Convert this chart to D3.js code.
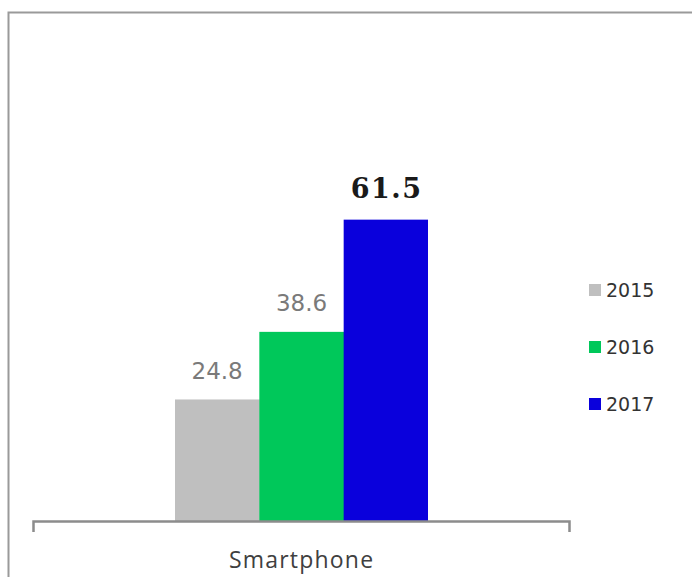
<!DOCTYPE html>
<html><head><meta charset="utf-8">
<script src="https://cdn.jsdelivr.net/npm/d3@7"></script>
<style>body{margin:0;background:#fff;}svg{display:block;}</style>
</head><body>
<svg id="c" width="692" height="577"></svg>
<script>
const categories = ["Smartphone"];
const seriesNames = ["2015", "2016", "2017"];
const seriesValues = [24.8, 38.6, 61.5];
const seriesColors = ["#bfbfbf", "#00c85a", "#0a00dc"];

const svg = d3.select("#c");
// frame
svg.append("rect").attr("x", 8.5).attr("y", 12.5).attr("width", 700).attr("height", 600)
  .attr("fill", "none").attr("stroke", "#9a9a9a").attr("stroke-width", 2);

const baseline = 521;
const y = d3.scaleLinear().domain([0, 70]).range([baseline, baseline - 70 * 4.9]);
const xCat = d3.scaleBand().domain(categories).range([33, 569]);
const xSer = d3.scaleBand().domain(seriesNames).range([175, 428]);

const g = svg.append("g");
seriesNames.forEach((s, i) => {
  g.append("rect")
    .attr("x", xSer(s)).attr("width", xSer.bandwidth() + (i < 2 ? 0.5 : 0))
    .attr("y", y(seriesValues[i])).attr("height", baseline - y(seriesValues[i]))
    .attr("fill", seriesColors[i]);
});

// axis
const axis = d3.axisBottom(xCat).tickSize(0).tickSizeOuter(11).tickPadding(31);
const ax = svg.append("g").attr("transform", `translate(0,${baseline})`).call(axis);
ax.select(".domain").attr("stroke", "#8c8c8c").attr("stroke-width", 2.5);
ax.selectAll(".tick text").attr("font-family", "'Open Sans', sans-serif")
  .attr("font-size", 23).attr("fill", "#404040").attr("letter-spacing", "1.2px")
  .attr("dx", "0.6px");

// value labels
seriesNames.forEach((s, i) => {
  const cx = xSer(s) + xSer.bandwidth() / 2;
  const bold = i === 2;
  svg.append("text").attr("x", cx + (bold ? 0.8 : 0)).attr("y", y(seriesValues[i]) - (bold ? 21.5 : 20.5))
    .attr("text-anchor", "middle")
    .attr("font-family", bold ? "'DejaVu Serif', serif" : "'DejaVu Sans', sans-serif")
    .attr("font-weight", bold ? "bold" : "normal")
    .attr("font-size", bold ? 27 : 23)
    .attr("letter-spacing", bold ? "1.5px" : "0px")
    .attr("fill", bold ? "#1a1a1a" : "#7a7a7a")
    .text(seriesValues[i].toFixed(1));
});

// legend
const ly = d3.scalePoint().domain(seriesNames).range([290, 404]);
seriesNames.forEach((s, i) => {
  svg.append("rect").attr("x", 589).attr("y", ly(s) - 6).attr("width", 12).attr("height", 12)
    .attr("fill", seriesColors[i]);
  svg.append("text").attr("x", 606).attr("y", ly(s) + 7)
    .attr("font-family", "'DejaVu Sans', sans-serif").attr("font-size", 19)
    .attr("fill", "#333").text(s);
});
</script>
</body></html>
